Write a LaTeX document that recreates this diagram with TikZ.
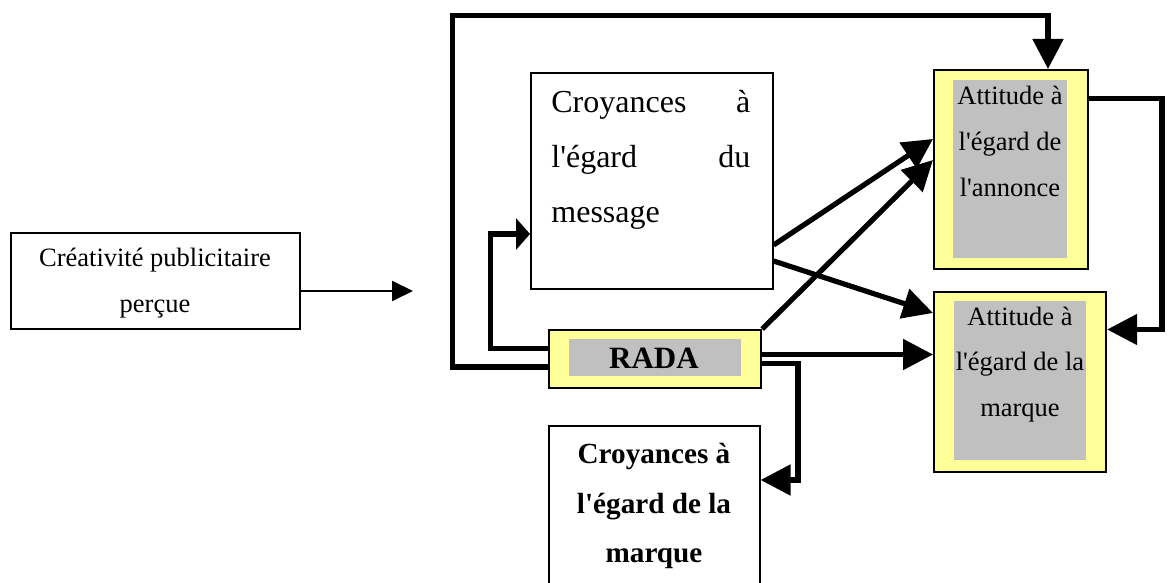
\documentclass[tikz,border=0pt]{standalone}
\usepackage{fontspec}
\setmainfont{Liberation Serif}[Ligatures=TeXOff]
\usetikzlibrary{arrows.meta}
\definecolor{paleyellow}{HTML}{FFFF99}
\definecolor{boxgray}{HTML}{C0C0C0}
\begin{document}
\begin{tikzpicture}[x=0.5pt,y=-0.5pt,
  plainbox/.style={draw=black, line width=0.8pt, fill=white, inner sep=0pt, anchor=north west},
  yellowbox/.style={draw=black, line width=1.1pt, fill=paleyellow, inner sep=0pt, anchor=north west},
  graybox/.style={fill=boxgray, inner sep=0pt, anchor=north west},
  txt/.style={inner sep=0pt, anchor=base},
  smallfont/.style={font=\fontsize{13.25}{23}\selectfont},
  conn/.style={line width=2.6pt, -{Triangle[length=15pt,width=15pt]}},
  shortconn/.style={line width=2.6pt, -{Triangle[length=7pt,width=15.5pt]}},
  thinconn/.style={line width=1pt, -{Triangle[length=10.5pt,width=10pt]}}
]
\clip (0,0) rectangle (1169,583);
\fill[white] (0,0) rectangle (1169,583);

% boxes
\node[plainbox, minimum width=144.5pt, minimum height=48pt] (cre) at (10,232) {};
\node[plainbox, minimum width=121pt, minimum height=108pt] (msg) at (530,72) {};
\node[yellowbox, minimum width=77pt, minimum height=99.5pt] (ann) at (933,69) {};
\node[graybox, minimum width=57pt, minimum height=89pt] (annIn) at (953,80) {};
\node[yellowbox, minimum width=86pt, minimum height=90pt] (mar) at (933,291) {};
\node[graybox, minimum width=66pt, minimum height=79.5pt] (marIn) at (954,301) {};
\node[yellowbox, minimum width=106pt, minimum height=29pt] (rada) at (548,329) {};
\node[graybox, minimum width=86pt, minimum height=18.5pt] (radaIn) at (569,339) {};
\node[plainbox, minimum width=105.5pt, minimum height=90pt] (cm) at (548,425) {};

% texts
\node[txt, smallfont] (creT) at (155,267)
  {\parbox[t]{150pt}{\centering Créativité publicitaire\\perçue}};
\node[inner sep=0pt, anchor=base west, font=\fontsize{16}{27.5}\selectfont] (msgT) at (551,113)
  {\parbox[t]{99.5pt}{Croyances\hfill à\\l'égard\hfill du\\message}};
\node[txt, smallfont] (annT) at (1010,105)
  {\parbox[t]{62pt}{\centering Attitude à\\l'égard de\\l'annonce}};
\node[txt, smallfont] (marT) at (1020,325)
  {\parbox[t]{72pt}{\centering Attitude à\\l'égard de la\\marque}};
\node[txt, font=\fontsize{15.5}{18}\selectfont\bfseries] (radaT) at (654,368) {RADA};
\node[txt, font=\fontsize{14.6}{25}\selectfont\bfseries] (cmT) at (654,463)
  {\parbox[t]{100pt}{\centering Croyances à\\l'égard de la\\marque}};

% connectors
\coordinate (creEnd) at (413,291);
\draw[thinconn] (cre.east |- 0,291) -- (creEnd);
\draw[conn] (rada.west |- 0,367) -| (452.5,15.5) -| (ann.north -| 1048,0);
\draw[shortconn] (rada.west |- 0,348.5) -| (490.7,234) -- (msg.west |- 0,234);
\draw[conn] (msg.east |- 0,245) -- (ann.west |- 0,139);
\draw[conn] (rada.north east) -- (ann.west |- 0,160);
\draw[conn] (msg.east |- 0,261) -- (mar.west |- 0,313);
\draw[conn] (rada.east |- 0,354.5) -- (mar.west |- 0,354.5);
\draw[conn] (rada.east |- 0,363.5) -| (798,480) -- (cm.east |- 0,480);
\draw[conn] (ann.east |- 0,98.5) -| (1162,329.5) -- (mar.east |- 0,329.5);
\end{tikzpicture}
\end{document}
